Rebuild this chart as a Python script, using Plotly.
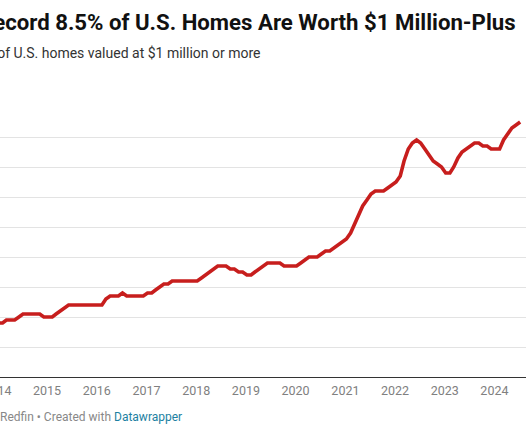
import plotly.graph_objects as go
import pandas as pd

# ---- data ----
start_month = "2014-01-01"
share_pct = [
    1.8, 1.8, 1.9, 1.9, 1.9, 2.0, 2.1, 2.1, 2.1, 2.1, 2.1, 2.0,   # 2014
    2.0, 2.0, 2.1, 2.2, 2.3, 2.4, 2.4, 2.4, 2.4, 2.4, 2.4, 2.4,   # 2015
    2.4, 2.4, 2.6, 2.7, 2.7, 2.7, 2.8, 2.7, 2.7, 2.7, 2.7, 2.7,   # 2016
    2.8, 2.8, 2.9, 3.0, 3.1, 3.1, 3.2, 3.2, 3.2, 3.2, 3.2, 3.2,   # 2017
    3.2, 3.3, 3.4, 3.5, 3.6, 3.7, 3.7, 3.7, 3.6, 3.6, 3.5, 3.5,   # 2018
    3.4, 3.4, 3.5, 3.6, 3.7, 3.8, 3.8, 3.8, 3.8, 3.7, 3.7, 3.7,   # 2019
    3.7, 3.8, 3.9, 4.0, 4.0, 4.0, 4.1, 4.2, 4.2, 4.3, 4.4, 4.5,   # 2020
    4.6, 4.8, 5.1, 5.4, 5.7, 5.9, 6.1, 6.2, 6.2, 6.2, 6.3, 6.4,   # 2021
    6.5, 6.7, 7.2, 7.6, 7.8, 7.9, 7.8, 7.6, 7.4, 7.2, 7.1, 7.0,   # 2022
    6.8, 6.8, 7.0, 7.3, 7.5, 7.6, 7.7, 7.8, 7.8, 7.7, 7.7, 7.6,   # 2023
    7.6, 7.6, 7.9, 8.1, 8.3, 8.4, 8.5,                            # 2024
]
months = pd.date_range(start_month, periods=len(share_pct), freq="MS")

years = list(range(2014, 2025))
year_labels = [str(y) for y in years]
y_grid = [0, 1, 2, 3, 4, 5, 6, 7, 8, 9]

title = "Record 8.5% of U.S. Homes Are Worth $1 Million-Plus"
subtitle = "Share of U.S. homes valued at $1 million or more"

# ticks placed mid-January (so the first one sits inside the visible range);
# labels shifted back to the Jan-1 position
tick_dates = [pd.Timestamp(f"{y}-01-16") for y in years]

fig = go.Figure()
fig.add_trace(go.Scatter(
    x=months, y=share_pct, mode="lines",
    line=dict(color="#c71e1d", width=3.6, shape="linear"),
    hoverinfo="x+y",
))

fig.update_layout(
    width=526, height=439,
    margin=dict(l=0, r=0, t=107, b=62, autoexpand=False),
    paper_bgcolor="white", plot_bgcolor="white",
    font=dict(family="Roboto", color="#333333"),
    showlegend=False,
    xaxis=dict(
        type="date", automargin=False,
        range=["2014-01-13", "2024-08-13"],
        tickvals=tick_dates, ticktext=year_labels,
        showgrid=False, showline=True, linecolor="#333333", linewidth=1.2,
        ticks="", tickfont=dict(size=12.5, color="#808080", family="Roboto"),
        ticklabeloverflow="allow", ticklabelstandoff=2, ticklabelshift=-3,
        zeroline=False,
    ),
    yaxis=dict(
        range=[0, 9], tickvals=y_grid, showticklabels=False, automargin=False,
        showgrid=True, gridcolor="#e3e3e3", gridwidth=1,
        zeroline=False, ticks="",
    ),
    annotations=[
        dict(text="<b>" + title + "</b>", xref="paper", yref="paper",
             x=-23.5 / 526, y=1 + (107 - 7) / 270, xanchor="left", yanchor="top",
             showarrow=False, font=dict(size=22.2, color="#111111", family="Roboto")),
        dict(text=subtitle, xref="paper", yref="paper",
             x=-44 / 526, y=1 + (107 - 43) / 270, xanchor="left", yanchor="top",
             showarrow=False, font=dict(size=14, color="#333333", family="Roboto")),
        dict(text="Source: Redfin • Created with <span style='color:#1d81a2'>Datawrapper</span>",
             xref="paper", yref="paper",
             x=-45 / 526, y=-(408 - 377) / 270, xanchor="left", yanchor="top",
             showarrow=False, font=dict(size=12, color="#888888", family="Roboto")),
    ],
)

fig.write_html("out.html",
               config={"displayModeBar": False},
               post_script="document.body.style.margin='0';document.body.style.overflow='hidden';")
